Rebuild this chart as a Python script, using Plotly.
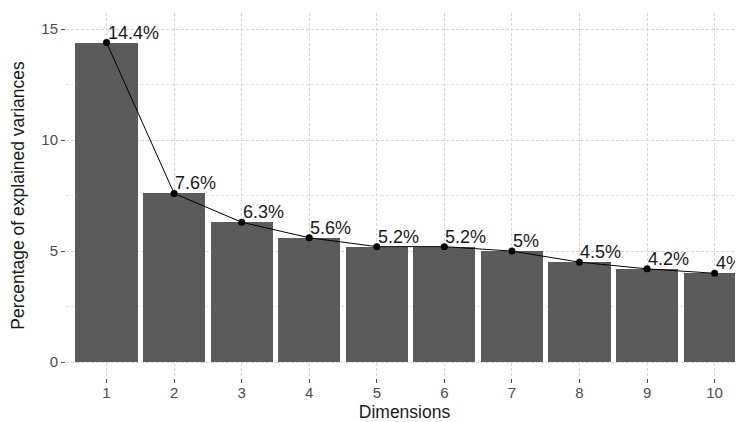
import plotly.graph_objects as go

dimensions = [1, 2, 3, 4, 5, 6, 7, 8, 9, 10]
variances = [14.4, 7.6, 6.3, 5.6, 5.2, 5.2, 5.0, 4.5, 4.2, 4.0]
labels = ["14.4%", "7.6%", "6.3%", "5.6%", "5.2%", "5.2%", "5%", "4.5%", "4.2%", "4%"]
ytick_vals = [0, 5, 10, 15]

fig = go.Figure()
fig.add_trace(go.Bar(x=dimensions, y=variances, width=0.92,
                     marker=dict(color="#5b5b5b", line=dict(width=0)),
                     hoverinfo="skip"))
fig.add_trace(go.Scatter(x=dimensions, y=variances, mode="lines+markers",
                         line=dict(color="black", width=1),
                         marker=dict(color="black", size=7)))
for d, v, t in zip(dimensions, variances, labels):
    fig.add_annotation(x=d, y=v, text=t, showarrow=False, xanchor="left", yanchor="bottom",
                       xshift=-1, yshift=-2,
                       font=dict(family="Liberation Sans", size=18, color="#1a1a1a"))

grid = dict(showgrid=True, gridcolor="#d6d6d6", griddash="3px,2px", gridwidth=1)
fig.update_layout(
    width=735, height=414,
    margin=dict(l=58, r=0, t=5, b=44),
    paper_bgcolor="white", plot_bgcolor="white",
    showlegend=False, bargap=0,
    font=dict(family="Liberation Sans", color="#4d4d4d", size=15),
    xaxis=dict(range=[0.4, 10.42], tickvals=dimensions, ticktext=[str(d) for d in dimensions],
               ticks="outside", ticklen=4, tickcolor="#4d4d4d", zeroline=False, automargin=False,
               ticklabelstandoff=-3,
               title=dict(text="Dimensions", font=dict(size=17.5, color="#1a1a1a"), standoff=6),
               **grid),
    yaxis=dict(range=[-0.72, 15.73], tickvals=ytick_vals,
               ticks="outside", ticklen=4, tickcolor="#4d4d4d", zeroline=False, automargin=False,
               minor=dict(tickvals=[2.5, 7.5, 12.5], showgrid=True, gridcolor="#e3e3e3",
                          griddash="3px,2px", ticks=""),
               title=dict(text="Percentage of explained variances",
                          font=dict(size=17.5, color="#1a1a1a"), standoff=14),
               **grid),
)
fig.write_html("out.html")
